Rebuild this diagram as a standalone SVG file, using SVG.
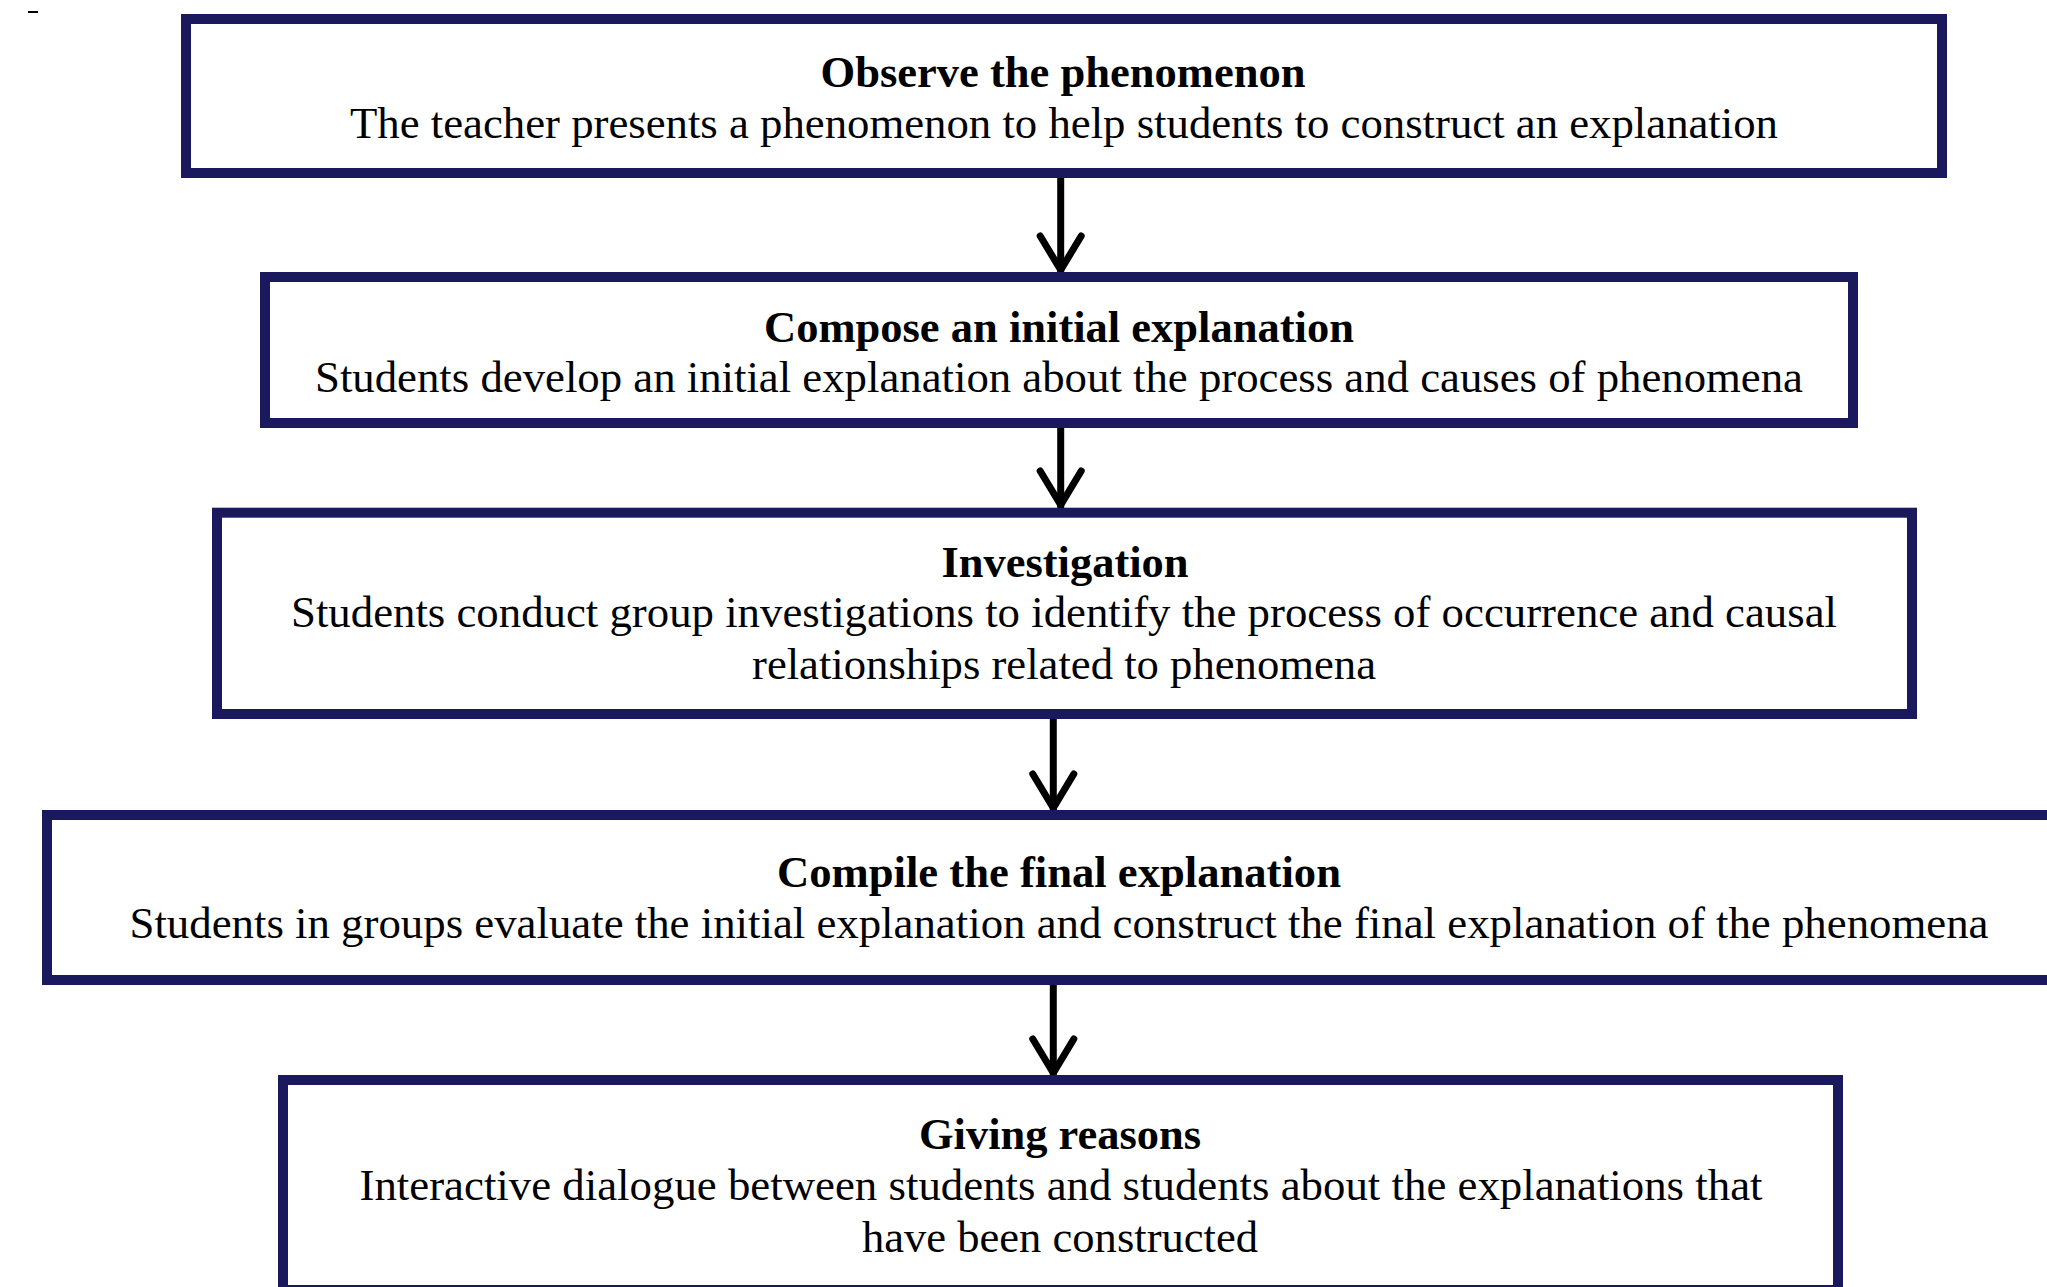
<svg xmlns="http://www.w3.org/2000/svg" width="2047" height="1287" viewBox="0 0 2047 1287">
<style>
.box{fill:#ffffff;stroke:#1b195e;stroke-width:10}
.t{font-family:"Liberation Serif","Times New Roman",serif;font-size:44.6px;fill:#000;text-anchor:middle}
.b{font-weight:bold}
.conn{stroke:#000;stroke-width:7;fill:none;stroke-linecap:round}
</style>
<defs>
<marker id="arr" markerUnits="userSpaceOnUse" orient="auto" refX="0" refY="0" markerWidth="60" markerHeight="60" viewBox="-45 -30 60 60" overflow="visible">
<path d="M-36,-20.5 L-2,0 L-36,20.5" fill="none" stroke="#000" stroke-width="7" stroke-linecap="round" stroke-linejoin="round"/>
</marker>
</defs>
<rect x="0" y="0" width="2047" height="1287" fill="#ffffff"/>
<line x1="28" y1="12" x2="38" y2="12" stroke="#000" stroke-width="2"/>
<g id="connectors">
<line class="conn" x1="1060.7" y1="178" x2="1060.7" y2="272" marker-end="url(#arr)"/>
<line class="conn" x1="1060.7" y1="428" x2="1060.7" y2="507" marker-end="url(#arr)"/>
<line class="conn" x1="1053.3" y1="719" x2="1053.3" y2="810" marker-end="url(#arr)"/>
<line class="conn" x1="1053.3" y1="985" x2="1053.3" y2="1075" marker-end="url(#arr)"/>
</g>
<g id="observe">
<rect class="box" x="186" y="19" width="1756" height="154"/>
<text class="t b" x="1063" y="87" textLength="485" lengthAdjust="spacingAndGlyphs">Observe the phenomenon</text>
<text class="t" x="1064" y="138" textLength="1428" lengthAdjust="spacingAndGlyphs">The teacher presents a phenomenon to help students to construct an explanation</text>
</g>
<g id="compose">
<rect class="box" x="265" y="277" width="1588" height="146"/>
<text class="t b" x="1059" y="342" textLength="590" lengthAdjust="spacingAndGlyphs">Compose an initial explanation</text>
<text class="t" x="1059" y="392" textLength="1488" lengthAdjust="spacingAndGlyphs">Students develop an initial explanation about the process and causes of phenomena</text>
</g>
<g id="investigation">
<rect class="box" x="217" y="512.7" width="1695" height="201.3"/>
<text class="t b" x="1065" y="577" textLength="247" lengthAdjust="spacingAndGlyphs">Investigation</text>
<text class="t" x="1064" y="627" textLength="1546" lengthAdjust="spacingAndGlyphs">Students conduct group investigations to identify the process of occurrence and causal</text>
<text class="t" x="1064" y="679" textLength="624" lengthAdjust="spacingAndGlyphs">relationships related to phenomena</text>
</g>
<g id="compile">
<rect class="box" x="47" y="815" width="2024" height="165"/>
<text class="t b" x="1059" y="887" textLength="564" lengthAdjust="spacingAndGlyphs">Compile the final explanation</text>
<text class="t" x="1059" y="938" textLength="1859" lengthAdjust="spacingAndGlyphs">Students in groups evaluate the initial explanation and construct the final explanation of the phenomena</text>
</g>
<g id="reasons">
<rect class="box" x="283" y="1080" width="1555" height="210"/>
<text class="t b" x="1060" y="1149" textLength="282" lengthAdjust="spacingAndGlyphs">Giving reasons</text>
<text class="t" x="1061" y="1200" textLength="1403" lengthAdjust="spacingAndGlyphs">Interactive dialogue between students and students about the explanations that</text>
<text class="t" x="1060" y="1252" textLength="396" lengthAdjust="spacingAndGlyphs">have been constructed</text>
</g>
</svg>
